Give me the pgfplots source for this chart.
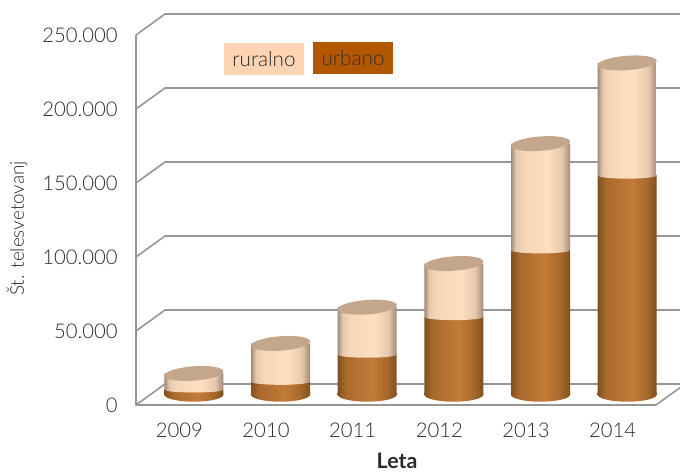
\documentclass[border=0pt]{standalone}
\usepackage{fontspec}
\setmainfont{Lato}[UprightFont=* Light,BoldFont=* Bold]
\usepackage{pgfplots}
\pgfplotsset{compat=1.18}
\usepackage{pgfplotstable}
\definecolor{txt}{HTML}{2A2A2A}
\definecolor{gridc}{HTML}{969696}
\definecolor{rurE}{HTML}{A08A78}
\definecolor{rurA}{HTML}{E6C8AC}
\definecolor{rurB}{HTML}{F5D6B8}
\definecolor{rurM}{HTML}{FFDFC0}
\definecolor{urbE}{HTML}{80501F}
\definecolor{urbA}{HTML}{A96A2E}
\definecolor{urbM}{HTML}{C27A38}
\definecolor{topc}{HTML}{C4A68D}
\definecolor{legR}{HTML}{FDD5B5}
\definecolor{legU}{HTML}{B35600}
% one period, for the ellipse marks
\pgfdeclarehorizontalshading{rurS}{100bp}{color(0bp)=(rurE); color(25bp)=(rurE); color(29bp)=(rurA); color(35bp)=(rurB); color(56bp)=(rurM); color(68bp)=(rurA); color(75bp)=(rurE); color(100bp)=(rurE)}
\pgfdeclarehorizontalshading{urbS}{100bp}{color(0bp)=(urbE); color(25bp)=(urbE); color(32bp)=(urbA); color(54bp)=(urbM); color(66bp)=(urbA); color(75bp)=(urbE); color(100bp)=(urbE)}
% six periods, for the six bars of one series, which pgfplots fills as one path
\pgfdeclarehorizontalshading{rurSix}{100bp}{color(0bp)=(rurE); color(25bp)=(rurE);
color(25.479bp)=(rurA); color(26.198bp)=(rurB); color(28.715bp)=(rurM); color(30.153bp)=(rurA); color(30.992bp)=(rurE);
color(33.802bp)=(rurE); color(34.281bp)=(rurA); color(35bp)=(rurB); color(37.517bp)=(rurM); color(38.955bp)=(rurA); color(39.794bp)=(rurE);
color(42.604bp)=(rurE); color(43.083bp)=(rurA); color(43.802bp)=(rurB); color(46.319bp)=(rurM); color(47.757bp)=(rurA); color(48.596bp)=(rurE);
color(51.406bp)=(rurE); color(51.885bp)=(rurA); color(52.604bp)=(rurB); color(55.121bp)=(rurM); color(56.559bp)=(rurA); color(57.398bp)=(rurE);
color(60.208bp)=(rurE); color(60.687bp)=(rurA); color(61.406bp)=(rurB); color(63.923bp)=(rurM); color(65.361bp)=(rurA); color(66.2bp)=(rurE);
color(69.01bp)=(rurE); color(69.489bp)=(rurA); color(70.208bp)=(rurB); color(72.725bp)=(rurM); color(74.163bp)=(rurA); color(75bp)=(rurE); color(100bp)=(rurE)}
\pgfdeclarehorizontalshading{urbSix}{100bp}{color(0bp)=(urbE); color(25bp)=(urbE);
color(25.839bp)=(urbA); color(28.475bp)=(urbM); color(29.913bp)=(urbA); color(30.992bp)=(urbE);
color(33.802bp)=(urbE); color(34.641bp)=(urbA); color(37.277bp)=(urbM); color(38.715bp)=(urbA); color(39.794bp)=(urbE);
color(42.604bp)=(urbE); color(43.443bp)=(urbA); color(46.079bp)=(urbM); color(47.517bp)=(urbA); color(48.596bp)=(urbE);
color(51.406bp)=(urbE); color(52.245bp)=(urbA); color(54.881bp)=(urbM); color(56.319bp)=(urbA); color(57.398bp)=(urbE);
color(60.208bp)=(urbE); color(61.047bp)=(urbA); color(63.683bp)=(urbM); color(65.121bp)=(urbA); color(66.2bp)=(urbE);
color(69.01bp)=(urbE); color(69.849bp)=(urbA); color(72.485bp)=(urbM); color(73.923bp)=(urbA); color(75bp)=(urbE); color(100bp)=(urbE)}
\pgfdeclareplotmark{cylbase}{\path[draw=none,shade,shading=urbS,rotate=4.3] (canvas cs:x=-22.2pt,y=0pt) arc[start angle=180,end angle=360,x radius=22.2pt,y radius=5.4pt] -- (canvas cs:x=22.2pt,y=1.5pt) -- (canvas cs:x=-22.2pt,y=1.5pt) -- cycle;}
\pgfdeclareplotmark{cylmid}{\path[draw=none,shade,shading=rurS,rotate=4.3] (canvas cs:x=0pt,y=0pt) ellipse (22.2pt and 2.4pt);}
\pgfdeclareplotmark{cyltop}{\pgfsetfillcolor{topc}\pgfpathellipse{\pgfpointorigin}{\pgfqpoint{22.14pt}{1.665pt}}{\pgfqpoint{-0.405pt}{5.385pt}}\pgfusepathqfill}
\pgfplotstableread{
x urbano ruralno zero
0 3400 10800 0
1 8700 25800 0
2 27000 32000 0
3 52400 36100 0
4 97500 72000 0
5 148000 76000 0
}\cyl
\pgfplotsset{geom/.style={at={(0pt,0pt)},anchor=south west,scale only axis,width=390pt,height=277.5pt,
  xmin=-0.5,xmax=5.5,ymin=0,ymax=250000,clip=false}}
\begin{document}
\begin{tikzpicture}
\path[use as bounding box] (-112.875pt,-57.375pt) rectangle (397.125pt,295.875pt);
\begin{axis}[
  geom,
  axis line style={draw=none},
  major tick length=0pt,
  tick style={draw=none},
  xtick={0,1,2,3,4,5},
  xticklabels={2009,2010,2011,2012,2013,2014},
  ytick={0,50000,100000,150000,200000,250000},
  scaled y ticks=false,
  tick label style={font=\fontsize{15.2pt}{18pt}\selectfont,text=txt},
  yticklabel style={/pgf/number format/fixed,/pgf/number format/1000 sep={.},/pgf/number format/assume math mode=true,anchor=east,inner sep=0pt,xshift=-24.4pt,yshift=-7.875pt},
  xticklabel style={anchor=center,inner sep=0pt,xshift=-10.875pt,yshift=-26.6pt},
  xlabel={Leta},
  ylabel={Št. telesvetovanj},
  every axis x label/.style={at={(rel axis cs:0.4741,-0.1785)},anchor=center,inner sep=0pt,font=\bfseries\fontsize{16pt}{18pt}\selectfont,text=txt},
  every axis y label/.style={at={(rel axis cs:-0.2567,0.4486)},anchor=center,rotate=90,font=\fontsize{14.2pt}{16pt}\selectfont,text=txt},
]
\pgfplotsinvokeforeach{50000,100000,150000,200000,250000}{
  \draw[gridc,line width=1.2pt,line join=round] ([shift={(-10.875pt,-7.875pt)}]axis cs:-0.5,#1) -- ([shift={(10.875pt,7.875pt)}]axis cs:-0.5,#1) -- ([shift={(10.875pt,7.875pt)}]axis cs:5.5,#1);
}
\draw[gridc,line width=1.2pt,line join=round] ([shift={(-10.875pt,-7.875pt)}]axis cs:-0.5,250000) -- ([shift={(-10.875pt,-7.875pt)}]axis cs:-0.5,0) -- ([shift={(-10.875pt,-7.875pt)}]axis cs:5.5,0) -- ([shift={(10.875pt,7.875pt)}]axis cs:5.5,0) -- ([shift={(10.875pt,7.875pt)}]axis cs:-0.5,0) -- ([shift={(-10.875pt,-7.875pt)}]axis cs:-0.5,0);
\end{axis}
\begin{axis}[geom,hide axis,stack plots=y]
\addplot[only marks,mark=cylbase,forget plot] table[x=x,y=zero] {\cyl};
\addplot[ybar,bar width=44.25pt,bar shift=0pt,draw=none,shade,shading=urbSix,mark=cylmid] table[x=x,y=urbano] {\cyl};
\addplot[ybar,bar width=44.25pt,bar shift=0pt,draw=none,shade,shading=rurSix,mark=cyltop] table[x=x,y=ruralno] {\cyl};
\end{axis}
\node[fill=legR,minimum width=60pt,minimum height=24pt,inner sep=0pt,text=txt,font=\fontsize{15.5pt}{16pt}\selectfont] at (85.1pt,251.6pt) {ruralno};
\node[fill=legU,minimum width=60pt,minimum height=24pt,inner sep=0pt,text=black!80,font=\fontsize{15.5pt}{16pt}\selectfont] at (151.9pt,252.4pt) {urbano};
\end{tikzpicture}
\end{document}
